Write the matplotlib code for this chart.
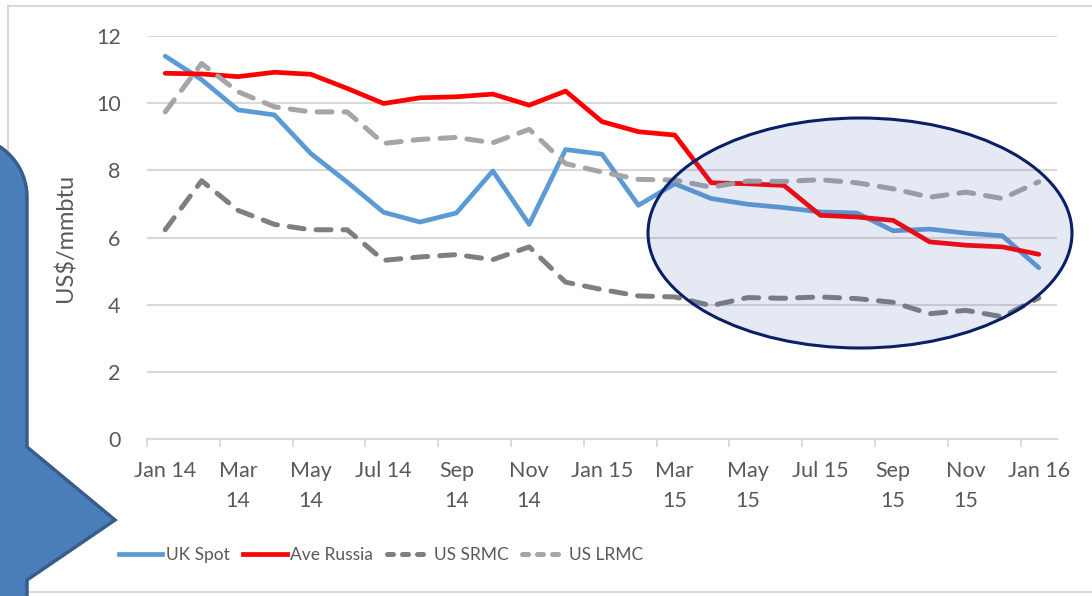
import numpy as np
import matplotlib
matplotlib.use('Agg')
import matplotlib.pyplot as plt
from matplotlib.patches import Ellipse, Polygon, Rectangle
from matplotlib.lines import Line2D

plt.rcParams['font.family'] = ['Lato', 'DejaVu Sans']

# Monthly values Jan 14 .. Jan 16 (US$/mmbtu)
months = ['Jan 14', 'Feb 14', 'Mar 14', 'Apr 14', 'May 14', 'Jun 14', 'Jul 14', 'Aug 14',
          'Sep 14', 'Oct 14', 'Nov 14', 'Dec 14', 'Jan 15', 'Feb 15', 'Mar 15', 'Apr 15',
          'May 15', 'Jun 15', 'Jul 15', 'Aug 15', 'Sep 15', 'Oct 15', 'Nov 15', 'Dec 15', 'Jan 16']
uk_spot = [11.4, 10.7, 9.8, 9.65, 8.5, 7.65, 6.75, 6.46, 6.73, 7.98, 6.39, 8.62, 8.48,
           6.96, 7.6, 7.16, 6.99, 6.89, 6.76, 6.73, 6.2, 6.25, 6.13, 6.05, 5.1]
ave_russia = [10.89, 10.87, 10.79, 10.92, 10.86, 10.44, 9.99, 10.16, 10.19, 10.27, 9.94, 10.36, 9.45,
              9.15, 9.05, 7.63, 7.6, 7.55, 6.66, 6.61, 6.51, 5.87, 5.77, 5.72, 5.5]
us_srmc = [6.23, 7.69, 6.81, 6.39, 6.23, 6.23, 5.32, 5.42, 5.49, 5.34, 5.72, 4.67, 4.45,
           4.26, 4.23, 3.97, 4.21, 4.19, 4.23, 4.18, 4.07, 3.73, 3.83, 3.64, 4.2]
us_lrmc = [9.74, 11.18, 10.34, 9.89, 9.74, 9.74, 8.8, 8.92, 8.98, 8.82, 9.22, 8.2, 7.95,
           7.73, 7.71, 7.5, 7.68, 7.67, 7.72, 7.63, 7.45, 7.2, 7.35, 7.16, 7.66]
tick_labels = ['Jan 14', 'Mar\n14', 'May\n14', 'Jul 14', 'Sep\n14', 'Nov\n14', 'Jan 15',
               'Mar\n15', 'May\n15', 'Jul 15', 'Sep\n15', 'Nov\n15', 'Jan 16']
series_names = ['UK Spot', 'Ave Russia', 'US SRMC', 'US LRMC']

W, H = 1092, 596
fig = plt.figure(figsize=(W / 100, H / 100), dpi=100)
ax = fig.add_axes([147 / W, 1 - 439 / H, (1057 - 147) / W, (439 - 36) / H])

x = np.arange(len(months))
txt = '#595959'
ax.plot(x, uk_spot, color='#5B9BD5', lw=3.4, solid_capstyle='round', zorder=3)
ax.plot(x, ave_russia, color='#FF0000', lw=3.4, solid_capstyle='round', zorder=3)
ax.plot(x, us_srmc, color='#7F7F7F', lw=3.6, dashes=(3, 2.4), dash_capstyle='round', zorder=3)
ax.plot(x, us_lrmc, color='#A5A5A5', lw=3.6, dashes=(3, 2.4), dash_capstyle='round', zorder=3)

ax.set_xlim(-0.5, len(months) - 0.5)
ax.set_ylim(0, 12)
ax.set_yticks(range(0, 13, 2))
ax.set_xticks(x[::2])
ax.set_xticklabels(tick_labels, linespacing=1.6, va='top')
ax.set_xticks(np.arange(-0.5, len(months), 2), minor=True)
ax.tick_params(axis='x', which='major', length=0, pad=16, labelsize=15.5, labelcolor=txt)
ax.tick_params(axis='x', which='minor', length=6, width=1.3, color='#D9D9D9')
ax.tick_params(axis='y', length=0, pad=19, labelsize=15.5, labelcolor=txt)
ax.grid(axis='y', color='#D9D9D9', lw=1.5)
ax.set_axisbelow(True)
for s in ['top', 'right', 'left']:
    ax.spines[s].set_visible(False)
ax.spines['bottom'].set_color('#D9D9D9')
ax.spines['bottom'].set_linewidth(1.5)
ax.set_ylabel('US$/mmbtu', fontsize=17, color=txt, labelpad=14)

# legend
handles = [Line2D([], [], color='#5B9BD5', lw=3.4),
           Line2D([], [], color='#FF0000', lw=3.4),
           Line2D([], [], color='#7F7F7F', lw=3.6, dashes=(1.2, 1.8), dash_capstyle='round'),
           Line2D([], [], color='#A5A5A5', lw=3.6, dashes=(1.2, 1.8), dash_capstyle='round')]
leg = fig.legend(handles, series_names, ncol=4, loc='center left',
                 bbox_to_anchor=(110 / W, 1 - 555 / H), frameon=False, borderpad=0,
                 fontsize=12.5, handlelength=2.5, handletextpad=0.2, columnspacing=0.8)
for t in leg.get_texts():
    t.set_color(txt)

# outer chart frame
fig.patches.append(Rectangle((8 / W, 1 - 592 / H), 1.0, (592 - 6) / H, transform=fig.transFigure,
                             fill=False, edgecolor='#D9D9D9', lw=1.5, zorder=0))

# highlight ellipse
fig.patches.append(Ellipse((860 / W, 1 - 233 / H), 424 / W, 230 / H, transform=fig.transFigure,
                           facecolor=(0.3, 0.4, 0.7, 0.14), edgecolor='#0B1F66', lw=2.2, zorder=5))

# left callout shape
ang = np.linspace(np.pi / 2, 0, 20)
arc = np.column_stack([-33 + 60 * np.cos(ang), 197 - 60 * np.sin(ang)])
pts = np.vstack([[[-40, 137]], arc, [[27, 447], [115, 520], [27, 580], [27, 610], [-40, 610]]])
pts_fig = np.column_stack([pts[:, 0] / W, 1 - pts[:, 1] / H])
fig.patches.append(Polygon(pts_fig, closed=True, transform=fig.transFigure,
                           facecolor='#4A7EBB', edgecolor='#385D8A', lw=2.5, zorder=6))

fig.savefig('out.png', dpi=100)
